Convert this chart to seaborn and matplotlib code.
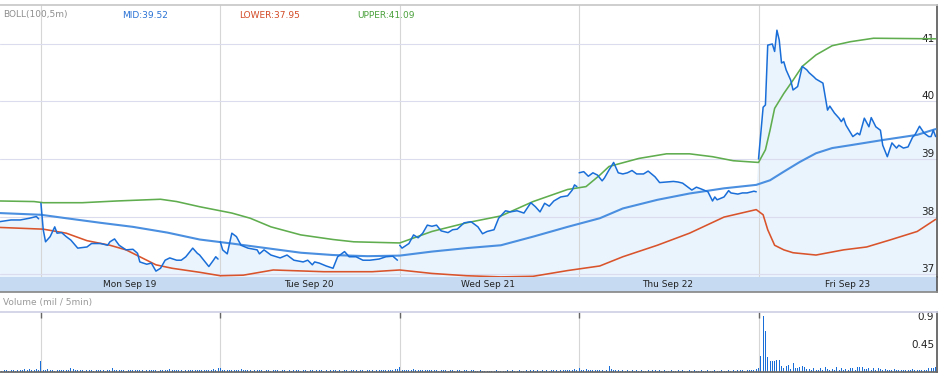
import numpy as np
import pandas as pd
import matplotlib.pyplot as plt
import seaborn as sns

# 5-min bars, 78 per session; bar 0 = Mon Sep 19 09:30
BARS_PER_DAY = 78
DAY_LABELS = ['Mon Sep 19', 'Tue Sep 20', 'Wed Sep 21', 'Thu Sep 22', 'Fri Sep 23']
DAY_STARTS = [0, 78, 156, 234, 312]

# last price, bar index -> price
price_bar = [-18, -13, -9, -5, -2, -1,
             0, 1, 2, 4, 6, 7, 9, 11, 13, 16, 20, 22, 26, 29, 30, 32, 34, 37, 40, 42, 43, 46, 48,
             50, 52, 54, 56, 59, 61, 63, 66, 68, 69, 73, 75, 76, 77,
             78, 79, 81, 83, 85, 87, 90, 94, 95, 97, 100, 104, 107, 110, 114, 116, 118, 119, 121,
             124, 127, 129, 132, 134, 137, 140, 143, 147, 150, 153, 155,
             156, 157, 160, 162, 164, 166, 168, 170, 172, 174, 177, 179, 181, 184, 187, 190, 192,
             194, 197, 199, 202, 204, 207, 210, 213, 215, 217, 219, 221, 223, 226, 229, 231, 232, 233,
             234, 236, 238, 240, 242, 244, 245, 247, 249, 251, 253, 255, 257, 259, 262, 264, 267,
             269, 272, 275, 277, 279, 281, 283, 285, 287, 290, 292, 293, 294, 297, 299, 300, 303,
             305, 307, 310, 311,
             312, 314, 315, 316, 318, 319, 320, 321, 322, 323, 324, 326, 327, 329, 331, 333, 334,
             336, 337, 340, 342, 343, 345, 347, 348, 349, 350, 353, 355, 356, 358, 360, 361, 363,
             365, 366, 368, 370, 372, 373, 375, 377, 379, 380, 382, 384, 386, 387, 388, 389]
price = [37.91, 37.94, 37.94, 37.97, 38.00, 37.96,
         38.23, 37.77, 37.56, 37.65, 37.82, 37.71, 37.72, 37.65, 37.59, 37.45, 37.47, 37.53, 37.53,
         37.50, 37.56, 37.61, 37.50, 37.42, 37.43, 37.36, 37.21, 37.17, 37.19, 37.05, 37.10, 37.24,
         37.28, 37.24, 37.24, 37.30, 37.45, 37.36, 37.33, 37.13, 37.24, 37.30, 37.26,
         37.56, 37.42, 37.35, 37.71, 37.65, 37.50, 37.45, 37.42, 37.35, 37.42, 37.33, 37.28, 37.33,
         37.24, 37.21, 37.24, 37.16, 37.21, 37.19, 37.14, 37.10, 37.30, 37.39, 37.30, 37.30, 37.24,
         37.24, 37.26, 37.30, 37.31, 37.24,
         37.50, 37.45, 37.53, 37.68, 37.63, 37.71, 37.85, 37.83, 37.85, 37.75, 37.72, 37.77, 37.78,
         37.89, 37.91, 37.82, 37.70, 37.74, 37.77, 37.97, 38.10, 38.08, 38.10, 38.06, 38.24, 38.17,
         38.08, 38.23, 38.18, 38.27, 38.34, 38.36, 38.46, 38.55, 38.52,
         38.76, 38.78, 38.70, 38.76, 38.72, 38.62, 38.67, 38.81, 38.94, 38.76, 38.74, 38.76, 38.80,
         38.74, 38.74, 38.79, 38.69, 38.59, 38.60, 38.61, 38.60, 38.58, 38.52, 38.46, 38.51, 38.48,
         38.43, 38.27, 38.34, 38.29, 38.34, 38.45, 38.41, 38.39, 38.41, 38.41, 38.44, 38.43,
         39.00, 39.90, 39.94, 40.98, 41.00, 40.87, 41.24, 41.07, 40.67, 40.69, 40.55, 40.37, 40.20,
         40.26, 40.61, 40.55, 40.50, 40.43, 40.39, 40.32, 39.85, 39.92, 39.80, 39.71, 39.65, 39.71,
         39.59, 39.39, 39.45, 39.42, 39.71, 39.56, 39.72, 39.56, 39.50, 39.24, 39.04, 39.28, 39.19,
         39.24, 39.19, 39.21, 39.38, 39.42, 39.57, 39.45, 39.39, 39.39, 39.50, 39.39]

# Bollinger bands (100, 5m)
mid_bar = [-18, 0, 11, 26, 40, 55, 69, 83, 98, 113, 127, 142, 156, 170, 185, 200, 214, 229,
           243, 253, 268, 282, 297, 311, 317, 323, 330, 337, 344, 352, 366, 381, 389]
mid = [38.06, 38.03, 37.97, 37.89, 37.82, 37.72, 37.60, 37.53, 37.45, 37.37, 37.33, 37.31, 37.32,
       37.39, 37.45, 37.50, 37.65, 37.82, 37.97, 38.14, 38.29, 38.40, 38.49, 38.55, 38.63, 38.78,
       38.95, 39.10, 39.19, 39.24, 39.33, 39.42, 39.52]
upper_bar = [-18, -3, 1, 18, 33, 52, 59, 69, 83, 91, 100, 113, 127, 136, 156, 170, 185, 200,
             214, 229, 237, 243, 247, 260, 272, 282, 292, 301, 312, 315, 317, 319, 323, 327, 331,
             337, 344, 352, 362, 389]
upper = [38.27, 38.26, 38.24, 38.24, 38.27, 38.30, 38.26, 38.17, 38.06, 37.97, 37.82, 37.68,
         37.60, 37.56, 37.54, 37.74, 37.89, 38.01, 38.26, 38.47, 38.52, 38.72, 38.87, 39.01, 39.09,
         39.09, 39.04, 38.97, 38.94, 39.16, 39.50, 39.88, 40.14, 40.37, 40.61, 40.81, 40.97,
         41.04, 41.10, 41.09]
lower_bar = [-18, 1, 11, 20, 30, 37, 43, 50, 57, 69, 78, 88, 101, 123, 144, 156, 170, 185, 200,
             214, 229, 243, 253, 268, 282, 297, 311, 314, 316, 319, 323, 327, 337, 349, 359, 369,
             381, 389]
lower = [37.81, 37.78, 37.71, 37.58, 37.50, 37.42, 37.30, 37.16, 37.10, 37.03, 36.97, 36.98, 37.07,
         37.04, 37.04, 37.07, 37.01, 36.97, 36.95, 36.96, 37.06, 37.14, 37.30, 37.50, 37.71, 37.99,
         38.12, 38.03, 37.77, 37.50, 37.42, 37.37, 37.33, 37.42, 37.47, 37.59, 37.74, 37.95]

# volume per 5-min bar, in 0.01 mil
vol_fri16 = [3, 2, 3, 3, 2, 3, 3, 2, 4, 3, 3, 5, 3, 5, 4, 3, 5, 4]
vol_mon = [17, 4, 3, 5, 3, 3, 2, 3, 3, 4, 3, 3, 3,
           7, 5, 3, 4, 3, 3, 2, 3, 3, 3, 2, 3, 3,
           3, 3, 2, 3, 3, 7, 4, 3, 3, 3, 3, 2, 3,
           3, 3, 3, 4, 3, 3, 2, 3, 3, 3, 3, 3, 2,
           3, 3, 3, 4, 5, 4, 3, 3, 3, 3, 2, 3, 3,
           3, 3, 3, 3, 3, 3, 4, 3, 3, 4, 5, 4, 6]
vol_tue = [7, 3, 4, 3, 4, 3, 3, 3, 3, 5, 3, 3, 3,
           3, 2, 3, 4, 3, 3, 2, 3, 3, 2, 3, 3, 3,
           2, 3, 3, 2, 3, 2, 3, 3, 3, 2, 3, 3, 2,
           3, 3, 2, 3, 3, 3, 2, 3, 2, 3, 3, 3, 2,
           3, 2, 3, 3, 2, 3, 3, 3, 2, 3, 3, 2, 3,
           3, 3, 2, 3, 3, 3, 3, 3, 4, 3, 4, 5, 5]
vol_wed = [8, 3, 4, 3, 3, 3, 5, 3, 4, 3, 3, 3, 4,
           3, 3, 3, 3, 2, 3, 3, 3, 2, 3, 3, 2, 3,
           3, 2, 3, 3, 2, 3, 3, 2, 2, 3, 2, 2, 2,
           2, 2, 2, 3, 2, 2, 2, 2, 4, 2, 3, 2, 2,
           3, 2, 2, 3, 2, 3, 3, 2, 3, 2, 3, 2, 3,
           2, 3, 3, 3, 2, 3, 3, 4, 3, 4, 3, 5, 4]
vol_thu = [6, 4, 3, 5, 3, 4, 3, 3, 3, 3, 3, 2, 3,
           9, 5, 3, 3, 3, 2, 3, 2, 3, 2, 3, 2, 3,
           2, 3, 2, 2, 3, 2, 4, 3, 2, 3, 2, 3, 2,
           2, 3, 2, 2, 3, 2, 3, 2, 2, 4, 2, 3, 2,
           2, 3, 2, 2, 3, 2, 2, 3, 2, 2, 3, 2, 2,
           3, 2, 3, 2, 3, 3, 3, 2, 3, 3, 4, 3, 5]
vol_fri = [7, 25, 90, 66, 24, 18, 18, 18, 19, 19, 9, 6, 9,
           11, 5, 15, 6, 6, 8, 10, 8, 5, 5, 3, 6, 3,
           3, 6, 4, 8, 5, 3, 5, 3, 8, 4, 6, 3, 5,
           3, 6, 7, 3, 8, 8, 8, 5, 5, 7, 4, 6, 3,
           6, 5, 3, 5, 3, 3, 4, 5, 3, 3, 4, 3, 3,
           4, 3, 5, 3, 4, 4, 3, 4, 3, 6, 6, 6, 8]

MID_C, LOWER_C, UPPER_C = '#4a8fe0', '#d9532b', '#5fad4e'
PRICE_C, FILL_C = '#1a6ed8', '#eaf4fd'

sns.set_theme(style='white')
plt.rcParams['font.family'] = ['DejaVu Sans']

W, H = 940, 376
fig = plt.figure(figsize=(W / 100, H / 100), dpi=100)


def box(x0, y0, x1, y1):
    # pixel box (top-left origin) -> figure fraction rect
    return [x0 / W, 1 - y1 / H, (x1 - x0) / W, (y1 - y0) / H]


ax = fig.add_axes(box(0, 5, 937, 277))
ax_days = fig.add_axes(box(0, 277, 937, 292), sharex=ax)
ax_vol = fig.add_axes(box(0, 312, 937, 372), sharex=ax)

df = pd.DataFrame({'bar': price_bar, 'price': price})
df['day'] = np.floor_divide(df['bar'], BARS_PER_DAY)

ax.fill_between(df['bar'], df['price'], 30, color=FILL_C, lw=0, zorder=1)
sns.lineplot(x=lower_bar, y=lower, ax=ax, color=LOWER_C, lw=1.15, zorder=3)
sns.lineplot(x=upper_bar, y=upper, ax=ax, color=UPPER_C, lw=1.15, zorder=3)
sns.lineplot(x=mid_bar, y=mid, ax=ax, color=MID_C, lw=1.5, zorder=3)
sns.lineplot(data=df, x='bar', y='price', units='day', estimator=None, ax=ax,
             color=PRICE_C, lw=1.1, zorder=4)

ax.set_xlim(-17.8, 389.6)
ax.set_ylim(36.948, 41.678)
ax.set_axisbelow('line')
ax.set_xticks(DAY_STARTS)
ax.set_yticks([37, 38, 39, 40, 41])
ax.grid(axis='x', color='#d6d6d6', lw=0.8)
ax.grid(axis='y', color='#dcdcef', lw=0.8)
ax.tick_params(axis='x', direction='in', length=4, width=1, color='#666666',
               labelbottom=False)
ax.tick_params(axis='y', length=0, labelleft=False, labelright=True, pad=-2,
               labelsize=7.5, labelcolor='#222222')
for lbl in ax.get_yticklabels():
    lbl.set_ha('right')
    lbl.set_va('bottom')
ax.set_xlabel('')
ax.set_ylabel('')
for s in ['left', 'bottom']:
    ax.spines[s].set_visible(False)
ax.spines['top'].set_color('#c8c8c8')
ax.spines['right'].set_color('#555555')
ax.spines['right'].set_linewidth(1.2)

# header
fig.text(3 / W, 1 - 15 / H, 'BOLL(100,5m)', color='#8e8e8e', fontsize=6.5, va='center')
fig.text(122 / W, 1 - 15 / H, f'MID:{mid[-1]:.2f}', color='#2a72d4', fontsize=6.5, va='center')
fig.text(239 / W, 1 - 15 / H, f'LOWER:{lower[-1]:.2f}', color='#d24a26', fontsize=6.5, va='center')
fig.text(357 / W, 1 - 15 / H, f'UPPER:{upper[-1]:.2f}', color='#4aa03c', fontsize=6.5, va='center')

# date band
ax_days.set_facecolor('#c6dbf2')
ax_days.set_ylim(0, 1)
for start, name in zip(DAY_STARTS, DAY_LABELS):
    ax_days.text(start + BARS_PER_DAY / 2 - 0.5, 0.5, name, ha='center', va='center',
                 fontsize=6.5, color='#222222')
ax_days.tick_params(left=False, bottom=False, labelleft=False, labelbottom=False)
for s in ['left', 'top']:
    ax_days.spines[s].set_visible(False)
ax_days.spines['bottom'].set_color('#8a8a8a')
ax_days.spines['right'].set_color('#555555')
ax_days.spines['right'].set_linewidth(1.2)

# volume
vol = np.array(vol_fri16 + vol_mon + vol_tue + vol_wed + vol_thu + vol_fri) / 100
vol_bar = np.arange(-len(vol_fri16), -len(vol_fri16) + len(vol))
sns.histplot(x=vol_bar, weights=vol, discrete=True, shrink=0.45, color=PRICE_C,
             alpha=1, linewidth=0, ax=ax_vol)
ax_vol.set_xlim(-17.8, 389.6)
ax_vol.set_ylim(0, 0.964)
ax_vol.set_xticks(DAY_STARTS)
ax_vol.grid(axis='x', color='#d6d6d6', lw=0.8)
ax_vol.grid(axis='y', visible=False)
ax_vol.tick_params(axis='x', direction='in', length=4, width=1, color='#666666',
                   top=True, bottom=False, labelbottom=False)
ax_vol.set_yticks([0.45, 0.9])
ax_vol.set_yticklabels(['0.45', '0.9'])
ax_vol.tick_params(axis='y', length=0, labelleft=False, labelright=True, pad=-2,
                   labelsize=7.5, labelcolor='#222222')
for lbl in ax_vol.get_yticklabels():
    lbl.set_ha('right')
ax_vol.set_xlabel('')
ax_vol.set_ylabel('')
ax_vol.spines['left'].set_visible(False)
ax_vol.spines['top'].set_color('#d0d0e6')
ax_vol.spines['bottom'].set_color('#666666')
ax_vol.spines['right'].set_color('#555555')
ax_vol.spines['right'].set_linewidth(1.2)

fig.text(3 / W, 1 - 302 / H, 'Volume (mil / 5min)', color='#999999', fontsize=6.5, va='center')

fig.savefig('out.png', dpi=100)
